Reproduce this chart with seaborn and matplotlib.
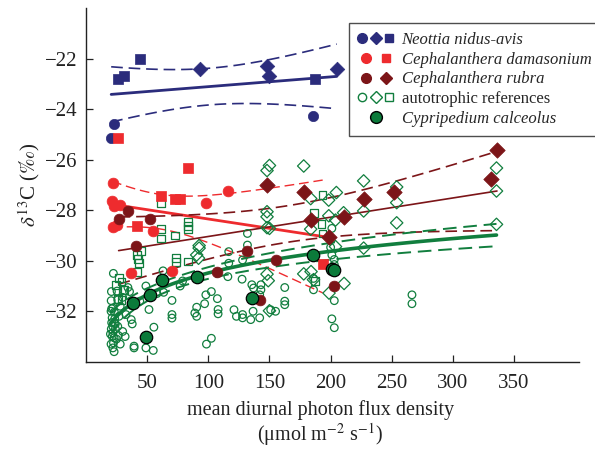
import numpy as np
import pandas as pd
import seaborn as sns
import matplotlib.pyplot as plt
from matplotlib.lines import Line2D
from matplotlib.legend_handler import HandlerTuple

# Neottia nidus-avis
neo_circ_x = [20.6, 22.7, 186]
neo_circ_y = [-25.14, -24.6, -24.28]
neo_dia_x = [93, 148, 150, 205]
neo_dia_y = [-22.43, -22.3, -22.7, -22.4]
neo_sq_x = [26, 31, 44, 187]
neo_sq_y = [-22.8, -22.7, -22.0, -22.8]

# Cephalanthera damasonium
dam_circ_x = [22.2, 21.4, 23.2, 28, 22.4, 25.4, 55, 98, 116, 36.7, 70.3]
dam_circ_y = [-26.94, -27.65, -27.83, -27.78, -28.65, -28.59, -28.83, -27.7, -27.25, -30.5, -30.39]
dam_sq_x = [26, 83.7, 61, 73, 77, 41.5, 193.5]
dam_sq_y = [-25.15, -26.32, -27.43, -27.57, -27.57, -28.62, -30.13]

# Cephalanthera rubra
rub_circ_x = [34, 26.7, 52.3, 40.7, 131.6, 155, 107.4, 142, 203]
rub_circ_y = [-28.04, -28.34, -28.34, -29.43, -29.61, -29.99, -30.46, -31.55, -30.98]
rub_dia_x = [148, 178, 184, 199, 211, 227, 252, 331, 336]
rub_dia_y = [-26.99, -27.28, -28.39, -29.05, -28.26, -27.54, -27.28, -26.75, -25.6]

# autotrophic references
ref_circ_x = [22.4, 20.8, 25.4, 34.3, 35.6, 49, 63, 70.3, 70.3, 70.3, 63.5, 51.5, 55.5, 49, 55,
              39.3, 39.3, 22, 23, 22, 23, 20.7, 26.5, 27, 37, 37.8, 37, 77, 79, 20.6, 26, 22,
              28, 23.2, 21.4, 32.7, 30, 44, 58, 24, 69.5,
              20.5, 21, 21.5, 22.5, 20.5, 24, 25, 21, 22, 23.5, 20, 26, 28, 30, 32,
              89, 90.5, 98, 102.5, 98.5, 102.5, 90.5, 97, 107.4, 108, 108, 116, 116.7, 116.7,
              121, 123, 128, 128, 127.6, 128, 132, 132, 135.6, 137, 136.6, 134.7, 143, 143,
              142, 142, 151, 155, 162.5, 162.5, 162.5,
              201, 200, 201, 203, 203, 186, 186, 203, 201, 203, 266.5, 266.5]
ref_circ_y = [-30.5, -31.22, -31.2, -31.06, -31.22, -31.0, -30.4, -31.57, -32.13, -32.27, -31.25,
              -31.93, -32.63, -33.45, -33.55, -33.38, -33.45, -33.45, -33.6, -32.85, -33.05,
              -32.7, -32.96, -32.2, -32.33, -32.5, -31.77, -31.0, -30.8, -31.58, -31.55, -31.87,
              -31.8, -32.03, -32.26, -32.13, -31.45, -31.6, -31.3, -32.5, -30.43,
              -32.0, -32.45, -33.0, -33.25, -33.3, -32.7, -33.1, -31.9, -32.6, -32.3, -32.9,
              -32.6, -33.3, -32.8, -33.0,
              -32.07, -32.2, -31.35, -31.22, -33.3, -33.07, -31.84, -31.7, -31.5, -31.93, -32.1,
              -30.63, -30.1, -29.64, -31.94, -32.2, -32.13, -32.26, -30.73, -29.97, -29.38,
              -28.92, -30.95, -31.08, -32.0, -32.33, -30.95, -31.15, -31.35, -32.26, -31.94,
              -32.0, -31.6, -31.74, -31.06,
              -28.72, -29.47, -29.77, -29.95, -30.15, -30.7, -31.15, -31.58, -32.3, -32.65,
              -31.35, -31.7]
ref_dia_x = [148, 150, 178, 183.7, 198.4, 204.7, 148, 148, 148, 150, 198.5, 204, 210.6, 183.7,
             92.5, 92.5, 90.5, 92, 204, 227, 254, 227, 254, 254, 335.6, 335.6, 335.6, 227,
             178, 184, 198.7, 211, 148, 149, 150, 186]
ref_dia_y = [-26.43, -26.23, -26.25, -27.54, -27.6, -27.3, -28.06, -28.26, -28.69, -28.72, -28.22,
             -28.39, -28.1, -28.75, -29.4, -29.5, -29.77, -29.9, -29.44, -26.84, -27.08, -28.03,
             -27.7, -28.5, -26.33, -27.24, -28.56, -29.5, -30.52, -30.43, -31.28, -30.9, -30.53,
             -30.79, -31.98, -30.75]
ref_sq_x = [61, 61, 61, 73, 83.7, 83.7, 83.7, 41.5, 42.6, 45, 43.5, 73.5, 73.5, 83.7, 41.5,
            27, 29, 24.5, 30, 31.5, 26, 29, 193.4, 186.7, 192.6, 193.4, 187]
ref_sq_y = [-27.7, -28.76, -29.12, -29.0, -28.48, -28.62, -28.76, -29.77, -29.93, -29.6, -30.1,
            -29.9, -30.06, -30.03, -30.43, -30.7, -30.82, -30.95, -31.15, -31.15, -31.5, -31.55,
            -27.41, -28.1, -28.56, -28.92, -30.8]

# Cypripedium calceolus
cyp_x = [38.7, 52.3, 62.5, 48.8, 90.5, 136, 185.3, 201, 203]
cyp_y = [-31.66, -31.37, -30.76, -33.02, -30.65, -31.48, -29.76, -30.32, -30.36]

NAVY = '#2b2c7c'
RED = '#ee2b2e'
DRED = '#7c1518'
GREEN = '#117e3e'


def fit_band(x, y, logx=False, num=120):
    # least squares fit with 95% confidence band
    x = np.asarray(x, float)
    y = np.asarray(y, float)
    X = np.log(x) if logx else x
    b, a = np.polyfit(X, y, 1)
    xs = np.linspace(x.min(), x.max(), num)
    Xs = np.log(xs) if logx else xs
    n = len(x)
    s = np.sqrt(((y - (a + b * X)) ** 2).sum() / (n - 2))
    sxx = ((X - X.mean()) ** 2).sum()
    df, z = n - 2, 1.96
    t = z + (z ** 3 + z) / (4 * df) + (5 * z ** 5 + 16 * z ** 3 + 3 * z) / (96 * df ** 2)
    half = t * s * np.sqrt(1 / n + (Xs - X.mean()) ** 2 / sxx)
    fit = a + b * Xs
    return xs, fit, fit - half, fit + half


sns.set_style('ticks')
plt.rcParams['font.family'] = ['Liberation Serif', 'DejaVu Serif']
plt.rcParams['mathtext.fontset'] = 'stix'
plt.rcParams['xtick.direction'] = 'in'
plt.rcParams['ytick.direction'] = 'in'

fig = plt.figure(figsize=(5.95, 4.5), dpi=100)
ax = fig.add_axes([0.1445, 0.196, 0.8285, 0.786])

# fitted lines
fits = [
    (neo_circ_x + neo_dia_x + neo_sq_x, neo_circ_y + neo_dia_y + neo_sq_y, False, NAVY, 2.0, 1.2),
    (dam_circ_x + dam_sq_x, dam_circ_y + dam_sq_y, False, RED, 2.0, 1.0),
    (rub_circ_x + rub_dia_x, rub_circ_y + rub_dia_y, False, DRED, 1.2, 1.2),
    (ref_circ_x + ref_dia_x + ref_sq_x, ref_circ_y + ref_dia_y + ref_sq_y, True, GREEN, 2.6, 1.4),
]
for fx, fy, logx, col, lw, dlw in fits:
    xs, fit, lo, hi = fit_band(fx, fy, logx)
    ax.plot(xs, fit, color=col, lw=lw, zorder=2)
    ax.plot(xs, lo, color=col, lw=dlw, dashes=(7, 3.5), zorder=2)
    ax.plot(xs, hi, color=col, lw=dlw, dashes=(7, 3.5), zorder=2)

hollow = dict(facecolor='none', edgecolor=GREEN, color=GREEN, linewidth=0.9, zorder=3)
sns.scatterplot(x=ref_circ_x, y=ref_circ_y, marker='o', s=30, ax=ax, **hollow)
sns.scatterplot(x=ref_dia_x, y=ref_dia_y, marker='D', s=40, ax=ax, **hollow)
sns.scatterplot(x=ref_sq_x, y=ref_sq_y, marker='s', s=32, ax=ax, **hollow)

groups = [
    (neo_circ_x, neo_circ_y, 'o', NAVY, 55), (neo_dia_x, neo_dia_y, 'D', NAVY, 55),
    (neo_sq_x, neo_sq_y, 's', NAVY, 45),
    (dam_circ_x, dam_circ_y, 'o', RED, 60), (dam_sq_x, dam_sq_y, 's', RED, 45),
    (rub_circ_x, rub_circ_y, 'o', DRED, 60), (rub_dia_x, rub_dia_y, 'D', DRED, 62),
]
for gx, gy, m, col, sz in groups:
    sns.scatterplot(x=gx, y=gy, marker=m, s=sz, color=col, edgecolor=col, linewidth=0.5,
                    ax=ax, zorder=4)
sns.scatterplot(x=cyp_x, y=cyp_y, marker='o', s=80, color='#0b7a3a', edgecolor='black',
                linewidth=0.9, ax=ax, zorder=5)

ax.set_xlim(0, 403)
ax.set_ylim(-34, -20)
ax.set_xticks([50, 100, 150, 200, 250, 300, 350])
ax.set_yticks([-32, -30, -28, -26, -24, -22])
ax.tick_params(labelsize=15, length=5, width=0.9, colors='#222222')
ax.tick_params(axis='x', pad=9)
ax.tick_params(axis='y', pad=6)
for sp in ['top', 'right']:
    ax.spines[sp].set_visible(False)
for sp in ['left', 'bottom']:
    ax.spines[sp].set_linewidth(1.0)
    ax.spines[sp].set_color('#222222')

ax.set_xlabel('mean diurnal photon flux density\n(μmol m$^{-2}$ s$^{-1}$)', fontsize=14.5,
              linespacing=1.05, color='#222222')
ax.xaxis.set_label_coords(0.475, -0.108, transform=ax.transAxes)
ax.xaxis.label.set_va('top')
ax.set_ylabel(r'$\delta^{13}$C ($\mathit{‰}$)', fontsize=15, color='#222222')
ax.yaxis.set_label_coords(-0.09, 0.5, transform=ax.transAxes)

def mk(m, col, fc=None, ec=None, ms=7):
    return Line2D([], [], ls='none', marker=m, markersize=ms, color=col,
                  markerfacecolor=fc or col, markeredgecolor=ec or col)

handles = [
    (mk('o', NAVY), mk('D', NAVY, ms=6.5), mk('s', NAVY, ms=6)),
    (mk('o', RED), mk('s', RED, ms=6)),
    (mk('o', DRED), mk('D', DRED, ms=6.5)),
    (mk('o', GREEN, fc='none', ms=6), mk('D', GREEN, fc='none', ms=6), mk('s', GREEN, fc='none', ms=6)),
    (mk('o', '#0b7a3a', ec='black', ms=8.5),),
]
labels = ['Neottia nidus-avis', 'Cephalanthera damasonium', 'Cephalanthera rubra',
          'autotrophic references', 'Cypripedium calceolus']
leg = ax.legend(handles, labels, handler_map={tuple: HandlerTuple(ndivide=None, pad=0.3)},
                loc='upper left', bbox_to_anchor=(349 / 595, 1 - 23 / 450),
                bbox_transform=fig.transFigure, frameon=True, fancybox=False,
                edgecolor='#222222', fontsize=12, handlelength=2.1, handletextpad=0.5,
                labelspacing=0.22, borderpad=0.55, borderaxespad=0)
leg.get_frame().set_linewidth(1.0)
for i, txt in enumerate(leg.get_texts()):
    if i != 3:
        txt.set_style('italic')

fig.savefig('out.png', dpi=100)
